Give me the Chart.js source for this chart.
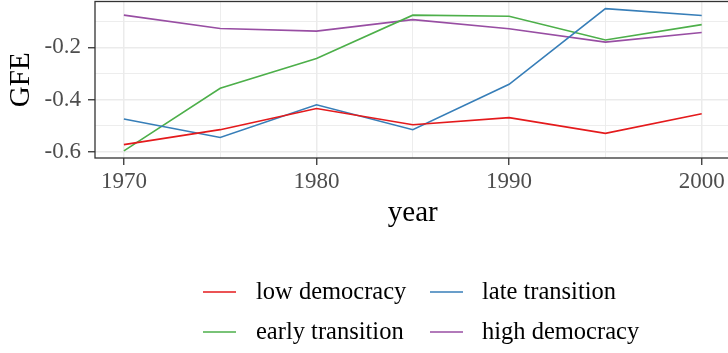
<!DOCTYPE html>
<html>
<head>
<meta charset="utf-8">
<title>GFE by year</title>
<script src="https://cdn.jsdelivr.net/npm/chart.js@4.4.1/dist/chart.umd.min.js"></script>
<style>
  html, body { margin: 0; padding: 0; background: #fff; overflow: hidden; }
  #wrap { width: 740px; height: 353px; }
</style>
</head>
<body>
<div id="wrap"><canvas id="gfeChart" width="740" height="353"></canvas></div>
<script>
// Values per regime type, one per survey year
const years = [1970, 1975, 1980, 1985, 1990, 1995, 2000];
const lowDemocracy = [-0.571, -0.514, -0.433, -0.495, -0.468, -0.528, -0.453];
const lateTransition = [-0.473, -0.544, -0.419, -0.514, -0.341, -0.052, -0.078];
const earlyTransition = [-0.595, -0.356, -0.242, -0.077, -0.081, -0.172, -0.113];
const highDemocracy = [-0.077, -0.128, -0.138, -0.094, -0.129, -0.180, -0.143];

// Axis ticks (minor ticks only get a grid line)
const xMajorTicks = [1970, 1980, 1990, 2000];
const xMinorTicks = [1975, 1985, 1995];
const xTickLabels = ["1970", "1980", "1990", "2000"];
const yMajorTicks = [-0.6, -0.4, -0.2];
const yMinorTicks = [-0.5, -0.3, -0.1];
const yTickLabels = ["-0.6", "-0.4", "-0.2"];

const FONT = "'Liberation Serif', 'Times New Roman', serif";
const GRID = "#EBEBEB";
const DARK = "#333333";

// ggplot-style range: data extent plus 5% on each side
function expand(vals) {
  const lo = Math.min(...vals);
  const hi = Math.max(...vals);
  const pad = (hi - lo) * 0.05;
  return [lo - pad, hi + pad];
}
const [yMin, yMax] = expand([].concat(lowDemocracy, lateTransition, earlyTransition, highDemocracy));
const [xMin, xMax] = expand(years);

function series(label, vals, color) {
  return {
    label: label,
    data: years.map((yr, i) => ({ x: yr, y: vals[i] })),
    borderColor: color,
    backgroundColor: color,
    borderWidth: 1.6,
    pointRadius: 0,
    tension: 0,
    fill: false,
  };
}

function isMajor(list, v) {
  return list.some((m) => Math.abs(m - v) < 1e-6);
}

// Panel border drawn over the lines
const panelBorder = {
  id: "panelBorder",
  afterDatasetsDraw(chart) {
    const { ctx, chartArea } = chart;
    ctx.save();
    ctx.strokeStyle = DARK;
    ctx.lineWidth = 1.3;
    ctx.strokeRect(chartArea.left, chartArea.top, chartArea.right - chartArea.left, chartArea.bottom - chartArea.top);
    ctx.restore();
  },
};

// Two-column legend under the x axis title (filled column by column)
const gridLegend = {
  id: "gridLegend",
  afterDraw(chart) {
    const { ctx } = chart;
    const cols = [{ key: 203, text: 256 }, { key: 430, text: 482 }];
    const rows = [{ key: 292, text: 298.5 }, { key: 332, text: 338.5 }];
    const order = [0, 2, 1, 3]; // low, early | late, high
    ctx.save();
    ctx.font = "24.5px " + FONT;
    ctx.fillStyle = "#000";
    ctx.textBaseline = "alphabetic";
    order.forEach((dsIndex, slot) => {
      const ds = chart.data.datasets[dsIndex];
      const col = cols[Math.floor(slot / 2)];
      const row = rows[slot % 2];
      ctx.strokeStyle = ds.borderColor;
      ctx.lineWidth = 1.6;
      ctx.beginPath();
      ctx.moveTo(col.key, row.key);
      ctx.lineTo(col.key + 33, row.key);
      ctx.stroke();
      ctx.fillText(ds.label, col.text, row.text);
    });
    ctx.restore();
  },
};

const ctx = document.getElementById("gfeChart");
new Chart(ctx, {
  type: "line",
  data: {
    datasets: [
      series("low democracy", lowDemocracy, "#E41A1C"),
      series("late transition", lateTransition, "#377EB8"),
      series("early transition", earlyTransition, "#4DAF4A"),
      series("high democracy", highDemocracy, "#984EA3"),
    ],
  },
  options: {
    responsive: false,
    animation: false,
    devicePixelRatio: 1,
    layout: { padding: { top: 1.5, right: 9.4, left: 0, bottom: 115 } },
    plugins: {
      legend: { display: false },
      tooltip: { enabled: false },
    },
    scales: {
      x: {
        type: "linear",
        min: xMin,
        max: xMax,
        afterBuildTicks: (scale) => {
          scale.ticks = xMajorTicks.concat(xMinorTicks).sort((a, b) => a - b).map((v) => ({ value: v }));
        },
        afterFit: (scale) => {
          scale.height = 80;
          scale.paddingLeft = 0;
          scale.paddingRight = 0;
        },
        border: { display: false },
        grid: {
          color: GRID,
          lineWidth: (c) => (isMajor(xMajorTicks, c.tick.value) ? 1.5 : 0.9),
          tickColor: (c) => (isMajor(xMajorTicks, c.tick.value) ? DARK : "rgba(0,0,0,0)"),
          tickLength: 7,
          tickWidth: 1.3,
        },
        ticks: {
          autoSkip: false,
          maxRotation: 0,
          padding: 3,
          color: "#4D4D4D",
          font: { family: FONT, size: 23 },
          callback: (value) => {
            const i = xMajorTicks.indexOf(value);
            return i >= 0 ? xTickLabels[i] : "";
          },
        },
        title: {
          display: true,
          text: "year",
          color: "#000",
          font: { family: FONT, size: 29 },
          padding: { top: 0, bottom: 7.5 },
        },
      },
      y: {
        type: "linear",
        min: yMin,
        max: yMax,
        afterBuildTicks: (scale) => {
          scale.ticks = yMajorTicks.concat(yMinorTicks).sort((a, b) => a - b).map((v) => ({ value: v }));
        },
        afterFit: (scale) => {
          scale.width = 95;
          scale.paddingTop = 0;
          scale.paddingBottom = 0;
        },
        border: { display: false },
        grid: {
          color: GRID,
          lineWidth: (c) => (isMajor(yMajorTicks, c.tick.value) ? 1.5 : 0.9),
          tickColor: (c) => (isMajor(yMajorTicks, c.tick.value) ? DARK : "rgba(0,0,0,0)"),
          tickLength: 7,
          tickWidth: 1.3,
        },
        ticks: {
          autoSkip: false,
          padding: 7,
          color: "#4D4D4D",
          font: { family: FONT, size: 23 },
          callback: (value) => {
            const i = yMajorTicks.findIndex((m) => Math.abs(m - value) < 1e-6);
            return i >= 0 ? yTickLabels[i] : "";
          },
        },
        title: {
          display: true,
          text: "GFE",
          color: "#000",
          font: { family: FONT, size: 29 },
          padding: { top: 4, bottom: 0 },
        },
      },
    },
  },
  plugins: [panelBorder, gridLegend],
});
</script>
</body>
</html>
